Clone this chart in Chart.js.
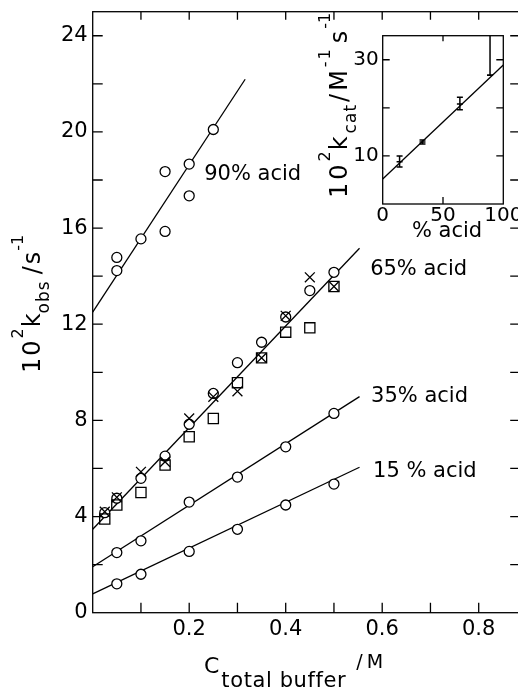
<!DOCTYPE html>
<html>
<head>
<meta charset="utf-8">
<script src="https://cdn.jsdelivr.net/npm/chart.js@4.4.1/dist/chart.umd.min.js"></script>
<style>
html,body{margin:0;padding:0;background:#fff;overflow:hidden;}
#wrap{position:relative;width:530px;height:693px;}
#main{position:absolute;left:0;top:0;}
#inset{position:absolute;left:300px;top:0;}
</style>
</head>
<body>
<div id="wrap">
<canvas id="main" width="530" height="693"></canvas>
<canvas id="inset" width="230" height="245"></canvas>
</div>
<script>
// main plot: 10^2 kobs / s-1 against C total buffer / M
const xTickLabels = [0.2, 0.4, 0.6, 0.8];
const xTickMarks = [0.1, 0.2, 0.3, 0.4, 0.5, 0.6, 0.7, 0.8];
const yTickLabels = [0, 4, 8, 12, 16, 20, 24];
const yTickMarks = [2, 4, 6, 8, 10, 12, 14, 16, 18, 20, 22, 24];

const conc15 = [0.05, 0.1, 0.2, 0.3, 0.4, 0.5];
const k15 = [1.2, 1.6, 2.55, 3.47, 4.48, 5.35];
const fit15 = [0.78, 6.05];

const conc35 = [0.05, 0.1, 0.2, 0.3, 0.4, 0.5];
const k35 = [2.5, 2.99, 4.6, 5.64, 6.9, 8.29];
const fit35 = [1.91, 8.99];

const conc65 = [0.025, 0.05, 0.1, 0.15, 0.2, 0.25, 0.3, 0.35, 0.4, 0.45, 0.5];
const k65circ = [4.16, 4.76, 5.59, 6.51, 7.84, 9.12, 10.4, 11.25, 12.3, 13.4, 14.16];
const k65cross = [4.2, 4.8, 5.86, 6.28, 8.08, 8.98, 9.21, 10.6, 12.35, 13.95, 13.57];
const k65sq = [3.9, 4.48, 5.0, 6.14, 7.32, 8.08, 9.57, 10.6, 11.67, 11.85, 13.57];
const fit65 = [3.47, 15.16];

const conc90 = [0.05, 0.05, 0.1, 0.15, 0.15, 0.2, 0.2, 0.25];
const k90 = [14.78, 14.23, 15.55, 18.35, 15.86, 18.66, 17.34, 20.1];
const fit90 = [12.5, 22.19];

const fitX = [0, 0.553];
const fitX90 = [0, 0.316];

const seriesNames = ['90% acid', '65% acid', '35% acid', '15 % acid'];
const nameX = [0.231, 0.575, 0.577, 0.581];
const nameY = [18.0, 14.05, 8.76, 5.64];

// inset: 10^2 kcat against % acid
const pctAcid = [14, 33, 64, 89];
const kcat = [8.8, 12.9, 20.8, 26.8];
const kcatLo = [7.7, 12.5, 19.6, 26.8];
const kcatHi = [10.0, 13.3, 22.2, 40];
const fitPct = [0, 100];
const fitKcat = [5.2, 28.9];
const insetXLabels = [0, 50, 100];
const insetXMarks = [50];
const insetYLabels = [10, 30];
const insetYMarks = [10, 20, 30];

const FONT = '"DejaVu Sans", sans-serif';

function pts(xs, ys) { return xs.map((v, i) => ({x: v, y: ys[i]})); }

function runs(ctx, x, y, parts, angle) {
  ctx.save();
  ctx.translate(x, y);
  if (angle) ctx.rotate(angle);
  ctx.fillStyle = '#000';
  ctx.textAlign = 'left';
  ctx.textBaseline = 'alphabetic';
  let cx = 0;
  parts.forEach(p => {
    ctx.font = p.size + 'px ' + FONT;
    if ('letterSpacing' in ctx) ctx.letterSpacing = (p.ls || 0) + 'px';
    cx += p.gap || 0;
    ctx.fillText(p.t, cx, p.dy || 0);
    cx += ctx.measureText(p.t).width;
  });
  ctx.restore();
}

function frame(ctx, a, x, y, xs, ys, len) {
  ctx.save();
  ctx.strokeStyle = '#000';
  ctx.lineWidth = 1.3;
  ctx.strokeRect(a.left, a.top, a.right - a.left, a.bottom - a.top);
  ctx.beginPath();
  xs.forEach(v => {
    const px = x.getPixelForValue(v);
    ctx.moveTo(px, a.bottom); ctx.lineTo(px, a.bottom - len);
    ctx.moveTo(px, a.top); ctx.lineTo(px, a.top + len * 0.8);
  });
  ys.forEach(v => {
    const py = y.getPixelForValue(v);
    ctx.moveTo(a.left, py); ctx.lineTo(a.left + len, py);
    ctx.moveTo(a.right, py); ctx.lineTo(a.right - len, py);
  });
  ctx.stroke();
  ctx.restore();
}

const fixX = h => s => { s.height = h; s.paddingLeft = 0; s.paddingRight = 0; };
const fixY = w => s => { s.width = w; s.paddingTop = 0; s.paddingBottom = 0; };

const mainDecor = {
  id: 'mainDecor',
  afterDatasetsDraw(chart) {
    const {ctx, chartArea: a, scales: {x, y}} = chart;
    frame(ctx, a, x, y, xTickMarks, yTickMarks, 10);
    ctx.save();
    ctx.fillStyle = '#000';
    ctx.font = '21px ' + FONT;
    seriesNames.forEach((n, i) => {
      ctx.fillText(n, x.getPixelForValue(nameX[i]), y.getPixelForValue(nameY[i]));
    });
    ctx.restore();
    runs(ctx, 40, 373, [
      {t: '10', size: 24, ls: 2},
      {t: '2', size: 16, dy: -17},
      {t: 'k', size: 24, gap: 1},
      {t: 'obs', size: 17, dy: 9, ls: 1},
      {t: '/', size: 24, gap: 6},
      {t: 's', size: 24, gap: 2},
      {t: '-1', size: 16, dy: -17, gap: 1}
    ], -Math.PI / 2);
    runs(ctx, 204, 673, [
      {t: 'C', size: 22},
      {t: 'total buffer', size: 21, dy: 14, gap: 2, ls: 0.6},
      {t: '/', size: 19, dy: -5, gap: 10},
      {t: 'M', size: 19, dy: -5, gap: 4}
    ]);
  }
};

const black = '#000';
const tickFont = {family: FONT, size: 21};

new Chart(document.getElementById('main'), {
  type: 'scatter',
  data: {
    datasets: [
      {data: pts(conc65, k65cross), pointStyle: 'crossRot', pointRadius: 7, borderColor: black, borderWidth: 1.3},
      {data: pts(conc65, k65sq), pointStyle: 'rect', pointRadius: 7.2, borderColor: black, backgroundColor: 'rgba(0,0,0,0)', borderWidth: 1.3},
      {data: pts(conc65, k65circ), pointStyle: 'circle', pointRadius: 5, borderColor: black, backgroundColor: '#fff', borderWidth: 1.3},
      {data: pts(conc90, k90), pointStyle: 'circle', pointRadius: 5, borderColor: black, backgroundColor: '#fff', borderWidth: 1.3},
      {data: pts(conc35, k35), pointStyle: 'circle', pointRadius: 5, borderColor: black, backgroundColor: '#fff', borderWidth: 1.3},
      {data: pts(conc15, k15), pointStyle: 'circle', pointRadius: 5, borderColor: black, backgroundColor: '#fff', borderWidth: 1.3},
      {data: pts(fitX90, fit90), showLine: true, pointRadius: 0, borderColor: black, borderWidth: 1.3},
      {data: pts(fitX, fit65), showLine: true, pointRadius: 0, borderColor: black, borderWidth: 1.3},
      {data: pts(fitX, fit35), showLine: true, pointRadius: 0, borderColor: black, borderWidth: 1.3},
      {data: pts(fitX, fit15), showLine: true, pointRadius: 0, borderColor: black, borderWidth: 1.3}
    ]
  },
  options: {
    responsive: false,
    animation: false,
    events: [],
    layout: {padding: {left: 32.7, right: 9.8, top: 11.7, bottom: 40.3}},
    plugins: {legend: {display: false}, tooltip: {enabled: false}},
    scales: {
      x: {
        type: 'linear', min: 0, max: 0.886,
        afterFit: fixX(40),
        afterBuildTicks: s => { s.ticks = xTickLabels.map(v => ({value: v})); },
        grid: {display: false, drawTicks: false},
        border: {display: false},
        ticks: {padding: 4, color: black, font: tickFont, maxRotation: 0, autoSkip: false, callback: v => v.toFixed(1)}
      },
      y: {
        type: 'linear', min: 0, max: 25,
        afterFit: fixY(60),
        afterBuildTicks: s => { s.ticks = yTickLabels.map(v => ({value: v})); },
        grid: {display: false, drawTicks: false},
        border: {display: false},
        ticks: {padding: 5, color: black, font: tickFont, autoSkip: false, callback: v => String(v)}
      }
    }
  },
  plugins: [mainDecor]
});

const insetDecor = {
  id: 'insetDecor',
  afterDatasetsDraw(chart) {
    const {ctx, chartArea: a, scales: {x, y}} = chart;
    ctx.save();
    ctx.beginPath();
    ctx.rect(a.left, a.top, a.right - a.left, a.bottom - a.top);
    ctx.clip();
    ctx.strokeStyle = black;
    ctx.lineWidth = 1.5;
    ctx.beginPath();
    pctAcid.forEach((p, i) => {
      const px = x.getPixelForValue(p);
      const lo = y.getPixelForValue(kcatLo[i]);
      const hi = y.getPixelForValue(kcatHi[i]);
      ctx.moveTo(px, lo); ctx.lineTo(px, hi);
      ctx.moveTo(px - 3, lo); ctx.lineTo(px + 3, lo);
      ctx.moveTo(px - 3, hi); ctx.lineTo(px + 3, hi);
    });
    ctx.stroke();
    ctx.restore();
    frame(ctx, a, x, y, insetXMarks, insetYMarks, 7);
    ctx.save();
    ctx.fillStyle = black;
    ctx.font = '21px ' + FONT;
    ctx.textAlign = 'center';
    ctx.fillText('% acid', (a.left + a.right) / 2 + 4, a.bottom + 33);
    ctx.restore();
    runs(ctx, 47, 198, [
      {t: '10', size: 24, ls: 3},
      {t: '2', size: 16, dy: -17},
      {t: 'k', size: 24, gap: 1, ls: 3},
      {t: 'cat', size: 17, dy: 9, ls: 1},
      {t: '/M', size: 24, gap: 2, ls: 3},
      {t: '-1', size: 16, dy: -17, ls: 2},
      {t: 's', size: 24, gap: 4},
      {t: '-1', size: 16, dy: -17, gap: 2}
    ], -Math.PI / 2);
  }
};

new Chart(document.getElementById('inset'), {
  type: 'scatter',
  data: {
    datasets: [
      {data: pts(pctAcid, kcat), pointStyle: 'line', pointRadius: 3, borderColor: black, borderWidth: 1.5},
      {data: pts(fitPct, fitKcat), showLine: true, pointRadius: 0, borderColor: black, borderWidth: 1.3}
    ]
  },
  options: {
    responsive: false,
    animation: false,
    events: [],
    layout: {padding: {left: 52.7, right: 26.7, top: 35.7, bottom: 11}},
    plugins: {legend: {display: false}, tooltip: {enabled: false}},
    scales: {
      x: {
        type: 'linear', min: 0, max: 100,
        afterFit: fixX(30),
        afterBuildTicks: s => { s.ticks = insetXLabels.map(v => ({value: v})); },
        grid: {display: false, drawTicks: false},
        border: {display: false},
        ticks: {padding: 0, color: black, font: {family: FONT, size: 20}, maxRotation: 0, autoSkip: false, callback: v => String(v)}
      },
      y: {
        type: 'linear', min: 0, max: 35,
        afterFit: fixY(30),
        afterBuildTicks: s => { s.ticks = insetYLabels.map(v => ({value: v})); },
        grid: {display: false, drawTicks: false},
        border: {display: false},
        ticks: {padding: 4, color: black, font: {family: FONT, size: 20}, autoSkip: false, callback: v => String(v)}
      }
    }
  },
  plugins: [insetDecor]
});
</script>
</body>
</html>
